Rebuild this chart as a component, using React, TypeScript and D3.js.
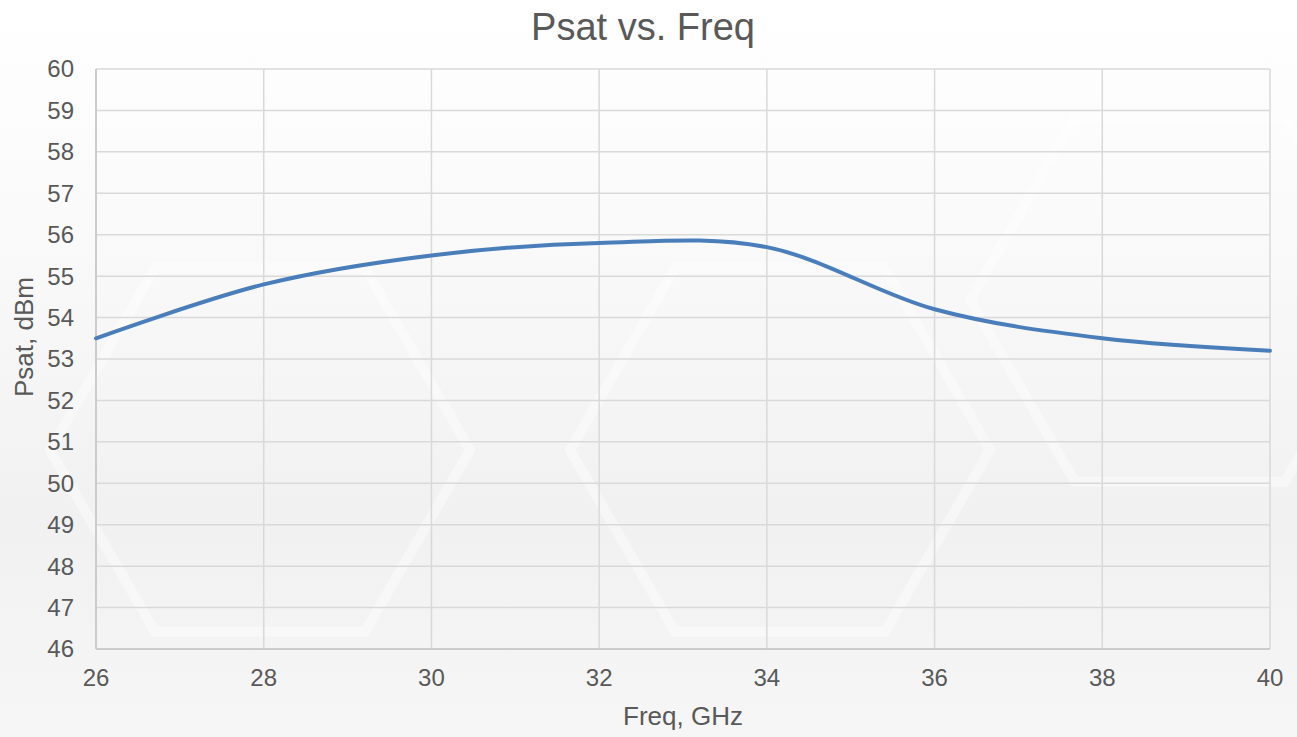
import React from 'react'
import * as d3 from 'd3'

const width = 1297
const height = 737
const margin = { top: 69, right: 27, bottom: 88, left: 96 }

// Psat readings, Excel smoothed line
const freq = [26, 28, 30, 32, 34, 36, 38, 40]
const psat = [53.5, 54.8, 55.5, 55.8, 55.7, 54.2, 53.5, 53.2]

const xTicks = [26, 28, 30, 32, 34, 36, 38, 40]
const yTicks = [46, 47, 48, 49, 50, 51, 52, 53, 54, 55, 56, 57, 58, 59, 60]

const textColor = '#595959'
const gridColor = '#d9d9d9'
const font = '"Liberation Sans", Arial, sans-serif'

const App = () => {
  const xScale = d3.scaleLinear()
    .domain([26, 40])
    .range([margin.left, width - margin.right])

  const yScale = d3.scaleLinear()
    .domain([46, 60])
    .range([height - margin.bottom, margin.top])

  const line = d3.line<number>()
    .x((d, i) => xScale(freq[i]))
    .y(d => yScale(d))
    .curve(d3.curveCardinal.tension(0))

  const x0 = xScale(26)
  const x1 = xScale(40)
  const y0 = yScale(46)
  const y1 = yScale(60)

  // faint hexagon watermark
  const hex = (cx: number, cy: number, r: number) => {
    const pts = d3.range(6).map(k => {
      const a = (Math.PI / 3) * k
      return [cx + r * Math.cos(a), cy + r * Math.sin(a)]
    })
    return 'M' + pts.map(p => p.join(',')).join('L') + 'Z'
  }

  return (
    <svg width={width} height={height} style={{ position: 'absolute', left: 0, top: 0 }}>
      <defs>
        <linearGradient id='bg' x1='0' y1='0' x2='0' y2='1'>
          <stop offset='0' stopColor='#ffffff' />
          <stop offset='0.35' stopColor='#f9f9f9' />
          <stop offset='0.7' stopColor='#f1f1f1' />
          <stop offset='1' stopColor='#f6f6f6' />
        </linearGradient>
      </defs>
      <rect width={width} height={height} fill='url(#bg)' />
      <g fill='none' stroke='#ffffff' strokeWidth='10' opacity='0.4'>
        <path d={hex(260, 450, 210)} />
        <path d={hex(780, 450, 210)} />
        <path d={hex(1180, 300, 210)} />
      </g>

      {yTicks.map(t => (
        <line key={'gy' + t} x1={x0} x2={x1} y1={yScale(t)} y2={yScale(t)}
          stroke={gridColor} strokeWidth='1.5' />
      ))}
      {xTicks.map(t => (
        <line key={'gx' + t} x1={xScale(t)} x2={xScale(t)} y1={y1} y2={y0}
          stroke={gridColor} strokeWidth='1.5' />
      ))}
      <line x1={x0} x2={x0} y1={y1} y2={y0} stroke='#cccccc' strokeWidth='2' />
      <line x1={x0} x2={x1} y1={y0} y2={y0} stroke='#cccccc' strokeWidth='2' />

      <path d={line(psat) || ''} fill='none' stroke='#4a7ebb' strokeWidth='4'
        strokeLinecap='round' />

      <g fontFamily={font} fontSize='24' fill={textColor}>
        {yTicks.map(t => (
          <text key={'ty' + t} x={74} y={yScale(t)} dy='0.35em' textAnchor='end'>{t}</text>
        ))}
        {xTicks.map(t => (
          <text key={'tx' + t} x={xScale(t)} y={686} textAnchor='middle'>{t}</text>
        ))}
      </g>

      <text x={643} y={40} textAnchor='middle' fontFamily={font} fontSize='38'
        fill={textColor}>Psat vs. Freq</text>
      <text x={683} y={725} textAnchor='middle' fontFamily={font} fontSize='26'
        fill={textColor}>Freq, GHz</text>
      <text transform='translate(33, 337) rotate(-90)' textAnchor='middle'
        fontFamily={font} fontSize='26' fill={textColor}>Psat, dBm</text>
    </svg>
  )
}

export default App
